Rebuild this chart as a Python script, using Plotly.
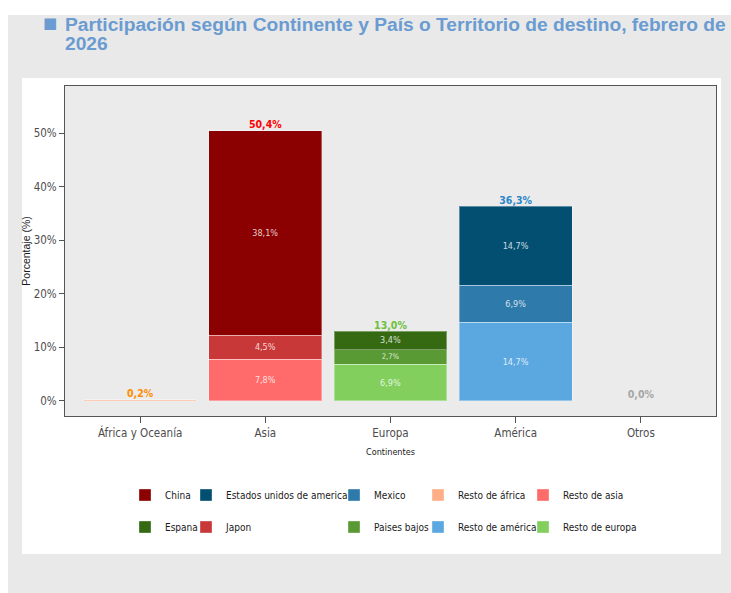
import plotly.graph_objects as go

# ---------------- data ----------------
continents = ["África y Oceanía", "Asia", "Europa", "América", "Otros"]

series_names = ["Resto de áfrica", "Resto de asia", "Japon", "China",
                "Resto de europa", "Paises bajos", "Espana",
                "Resto de américa", "Mexico", "Estados unidos de america"]
series_continent = ["África y Oceanía", "Asia", "Asia", "Asia",
                    "Europa", "Europa", "Europa",
                    "América", "América", "América"]
series_values = [0.2, 7.8, 4.5, 38.1, 6.9, 2.7, 3.4, 14.7, 6.9, 14.7]
series_colors = ["#FFAF87", "#FF6B6B", "#C93838", "#8B0000",
                 "#82CF5E", "#5A9A35", "#356A12",
                 "#5BA8E0", "#2E7AAB", "#024F72"]

totals = [0.2, 50.4, 13.0, 36.3, 0.0]
total_colors = ["#FF8C00", "#FF0000", "#6CC13A", "#2B87C8", "#A6A6A6"]

y_tickvals = [0, 10, 20, 30, 40, 50]
y_ticktext = ["0%", "10%", "20%", "30%", "40%", "50%"]

title_line1 = "Participación según Continente y País o Territorio de destino, febrero de"
title_line2 = "2026"

# legend entries as in the reference (two rows, five columns)
legend_order = ["China", "Estados unidos de america", "Mexico", "Resto de áfrica", "Resto de asia",
                "Espana", "Japon", "Paises bajos", "Resto de américa", "Resto de europa"]
legend_text_px = [163, 224, 372, 456, 561, 163, 224, 372, 456, 561]
legend_row_px = [495, 495, 495, 495, 495, 527, 527, 527, 527, 527]

# ---------------- geometry helpers ----------------
W, H = 731, 593
ML, MR, MT, MB = 65, 15, 86, 177
PW, PH = W - ML - MR, H - MT - MB


def px_x(px):
    return (px - ML) / PW


def px_y(py):
    return (H - MB - py) / PH


NARROW = "DejaVu Sans Condensed, Liberation Sans Narrow, Arial Narrow, sans-serif"


def fmt(v):
    return f"{v:.1f}%".replace(".", ",")


fig = go.Figure()

for name, cont, val, col in zip(series_names, series_continent, series_values, series_colors):
    li = legend_order.index(name)
    lid = "legend" if li == 0 else f"legend{li + 1}"
    fig.add_trace(go.Bar(
        x=[cont], y=[val], name=name,
        marker=dict(color=col, line=dict(color="rgba(255,255,255,0.35)", width=1)),
        width=0.9,
        text=[fmt(val) if val >= 1 else ""],
        textposition="inside", insidetextanchor="middle", textangle=0,
        textfont=dict(size=9, color="rgba(255,255,255,0.8)", family=NARROW),
        hoverinfo="skip", legend=lid,
    ))

fig.add_trace(go.Scatter(
    x=continents, y=totals, mode="text",
    text=[fmt(v) for v in totals], textposition="top center",
    textfont=dict(size=10.5, color=total_colors, family=NARROW, weight="bold"),
    showlegend=False, cliponaxis=False, hoverinfo="skip",
))

layout_legends = {}
for li, name in enumerate(legend_order):
    key = "legend" if li == 0 else f"legend{li + 1}"
    layout_legends[key] = dict(
        x=px_x(legend_text_px[li] - 38), y=px_y(legend_row_px[li]),
        xanchor="left", yanchor="middle", orientation="v",
        bgcolor="rgba(0,0,0,0)", borderwidth=0,
        font=dict(size=10, color="#1a1a1a", family=NARROW),
        itemclick=False, itemdoubleclick=False,
    )

shapes = [
    dict(type="rect", xref="paper", yref="paper", x0=px_x(8), x1=px_x(731), y0=px_y(593), y1=px_y(15),
         fillcolor="#E9E9E9", line=dict(width=0), layer="below"),
    dict(type="rect", xref="paper", yref="paper", x0=px_x(22), x1=px_x(721), y0=px_y(554), y1=px_y(78),
         fillcolor="#FFFFFF", line=dict(width=0), layer="below"),
    dict(type="rect", xref="paper", yref="paper", x0=0, x1=1, y0=0, y1=1,
         fillcolor="#EBEBEB", line=dict(width=0), layer="below"),
]

TITLE_FONT = dict(size=19.2, color="#6A9BD1", family="Liberation Sans, sans-serif")
annotations = [
    dict(text="■", xref="paper", yref="paper", x=px_x(41), y=px_y(23), xanchor="left", yanchor="middle",
         showarrow=False, font=dict(size=15, color="#6A9BD1", family="DejaVu Sans")),
    dict(text=f"<b>{title_line1}</b>", xref="paper", yref="paper", x=px_x(63), y=px_y(12),
         xanchor="left", yanchor="top", showarrow=False, font=TITLE_FONT),
    dict(text=f"<b>{title_line2}</b>", xref="paper", yref="paper", x=px_x(63), y=px_y(31),
         xanchor="left", yanchor="top", showarrow=False, font=TITLE_FONT),
]

fig.update_layout(
    width=W, height=H,
    margin=dict(l=ML, r=MR, t=MT, b=MB, pad=0),
    paper_bgcolor="#FFFFFF", plot_bgcolor="rgba(0,0,0,0)",
    barmode="stack", bargap=0.1,
    shapes=shapes, annotations=annotations,
    showlegend=True,
    **layout_legends,
    xaxis=dict(
        categoryorder="array", categoryarray=continents,
        range=[-0.6, 4.6], showgrid=False, zeroline=False,
        showline=True, mirror=True, linecolor="#555555", linewidth=1,
        ticks="outside", ticklen=6, tickcolor="#555555",
        tickfont=dict(size=11.5, color="#4D4D4D", family=NARROW),
        title=dict(text="Continentes", font=dict(size=9, color="#1a1a1a", family=NARROW), standoff=9),
    ),
    yaxis=dict(
        range=[-2.8, 58.77], tickmode="array", tickvals=y_tickvals, ticktext=y_ticktext,
        showgrid=False, zeroline=False,
        showline=True, mirror=True, linecolor="#555555", linewidth=1,
        ticks="outside", ticklen=5, tickcolor="#555555",
        tickfont=dict(size=11.5, color="#4D4D4D", family=NARROW),
        title=dict(text="Porcentaje (%)", font=dict(size=10.5, color="#1a1a1a", family="Liberation Sans, sans-serif"), standoff=1),
    ),
)

fig.write_html("out.html")
